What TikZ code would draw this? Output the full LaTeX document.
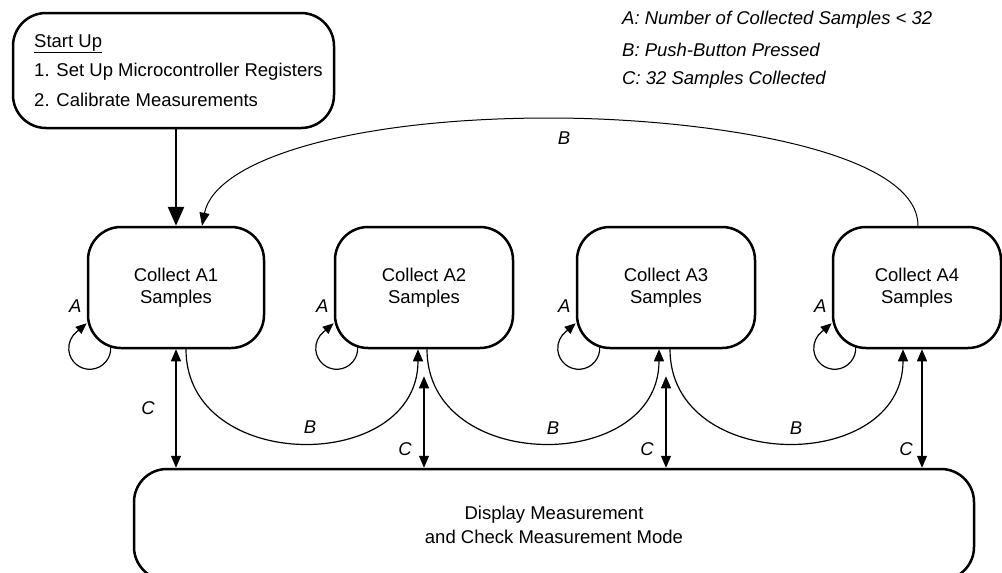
\documentclass[tikz,border=0pt]{standalone}
\usepackage{fontspec}
\setmainfont{Liberation Sans}
\usetikzlibrary{arrows.meta,calc}
\begin{document}
\begin{tikzpicture}[x=1pt,y=-1pt,
  box/.style={draw, line width=2.5pt, rounded corners=33pt, inner sep=0pt, align=center},
  collect/.style={box, minimum width=176pt, minimum height=121pt, font=\fontsize{18.5}{22}\selectfont},
  thinarr/.style={line width=1.2pt, -{Triangle[length=12pt,width=10pt]}},
  looparr/.style={line width=1.2pt, -{Triangle[length=11pt,width=9pt]}},
  darr/.style={line width=1.2pt, {Triangle[length=12pt,width=10pt]}-{Triangle[length=12pt,width=10pt]}},
  lbl/.style={font=\fontsize{18.5}{22}\selectfont\itshape, inner sep=0pt},
]
\path[use as bounding box] (0,0) rectangle (1002,573);
\clip (0,0) rectangle (1002,573);

% nodes
\node[box, minimum width=321pt, minimum height=115pt, align=left,
      font=\fontsize{18.5}{29.5}\selectfont] (start) at (173.5,70.5)
  {\hspace*{10pt}\underline{Start Up}\\\hspace*{10pt}1. Set Up Microcontroller Registers\\\hspace*{10pt}2. Calibrate Measurements};
\node[collect] (a1) at (176,287.5) {Collect A1\\Samples};
\node[collect, minimum width=178pt] (a2) at (424,287.5) {Collect A2\\Samples};
\node[collect, minimum width=178pt] (a3) at (666,287.5) {Collect A3\\Samples};
\node[collect, minimum width=168pt] (a4) at (917,287.5) {Collect A4\\Samples};
\node[box, minimum width=840pt, minimum height=111pt, font=\fontsize{18.5}{24}\selectfont] (disp) at (554,524.5)
  {Display Measurement\\and Check Measurement Mode};

% legend
\node[lbl, anchor=west] (legA) at (622,20) {A: Number of Collected Samples < 32};
\node[lbl, anchor=west] (legB) at (622,50) {B: Push-Button Pressed};
\node[lbl, anchor=west] (legC) at (622,80) {C: 32 Samples Collected};

% start arrow
\draw[line width=2.5pt, -{Triangle[length=19pt,width=16pt]}] (start.south -| a1.north) -- (a1.north);

% big B arc
\coordinate (peak) at (550,118);
\draw[line width=1pt, -{Triangle[length=13pt,width=10pt]}] ([xshift=1pt]a4.north)
  .. controls +(0,-77) and (700,118) .. (peak)
  .. controls (350,118) and (215,160) .. ([xshift=26pt]a1.north);
\node[lbl] (lbB0) at (564,138) {B};

% bottom B arcs
\draw[thinarr] ([xshift=10pt]a1.south) .. controls +(0,125) and +(0,125) .. ([xshift=-6pt]a2.south);
\draw[thinarr] ([xshift=3pt]a2.south) .. controls +(0,125) and +(0,125) .. ([xshift=-7pt]a3.south);
\draw[thinarr] ([xshift=4pt]a3.south) .. controls +(0,125) and +(0,125) .. ([xshift=-14pt]a4.south);
\node[lbl] (lbB1) at (310,427) {B};
\node[lbl] (lbB2) at (553,428) {B};
\node[lbl] (lbB3) at (796,428) {B};

% C arrows
\draw[darr] (a1.south) -- (a1.south |- disp.north);
\draw[darr] ([yshift=-27pt]a2.south) -- (a2.south |- disp.north);
\draw[darr] ([yshift=-27pt]a3.south) -- (a3.south |- disp.north);
\draw[darr] ([xshift=5pt]a4.south) -- ([xshift=5pt]a4.south |- disp.north);
\node[lbl] (lbC1) at (148,408) {C};
\node[lbl] (lbC2) at (405,449) {C};
\node[lbl] (lbC3) at (647,449) {C};
\node[lbl] (lbC4) at (906,449) {C};

% self loops A
\foreach \n in {a1,a2,a3,a4}{
  \draw[looparr] ($(\n.south west)+(23.9,-2.8)$) arc[start angle=-5, end angle=232, radius=21]
     -- ($(\n.south west)+(0,-26)$);
  \node[lbl] (lbA-\n) at ($(\n.west)+(-11.5,19)$) {A};
}
\end{tikzpicture}
\end{document}
